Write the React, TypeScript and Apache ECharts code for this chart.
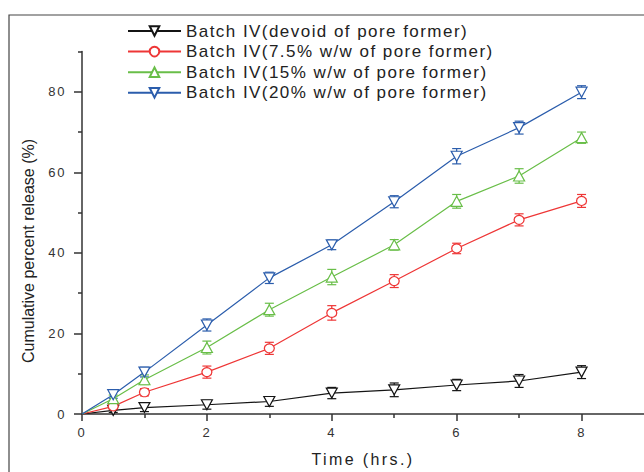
import React, { useEffect, useRef } from "react";
import * as echarts from "echarts";

// Sampling times (h)
const times = [0, 0.5, 1, 2, 3, 4, 5, 6, 7, 8];

// Series labels
const seriesNames = [
  "Batch IV(devoid of pore former)",
  "Batch IV(7.5% w/w of pore former)",
  "Batch IV(15% w/w of pore former)",
  "Batch IV(20% w/w of pore former)",
];

// Mean cumulative release (%)
const releaseNone = [0, 0.9, 1.6, 2.3, 3.1, 5.2, 6.0, 7.2, 8.2, 10.4];
const release75 = [0, 1.9, 5.4, 10.4, 16.3, 25.1, 33.0, 41.1, 48.2, 52.9];
const release15 = [0, 3.8, 8.5, 16.5, 25.9, 34.0, 42.0, 52.8, 59.1, 68.6];
const release20 = [0, 4.8, 10.4, 22.1, 33.8, 42.0, 52.7, 64.0, 71.1, 79.9];

// Standard deviations (%)
const sdNone = [0, 0.5, 1.0, 1.1, 1.2, 1.4, 1.7, 1.4, 1.6, 1.6];
const sd75 = [0, 0.8, 0.9, 1.5, 1.5, 1.8, 1.6, 1.3, 1.5, 1.6];
const sd15 = [0, 0.9, 1.2, 1.6, 1.6, 1.9, 1.3, 1.7, 1.8, 1.4];
const sd20 = [0, 0.9, 1.2, 1.5, 1.4, 1.2, 1.5, 1.9, 1.6, 1.6];

// Axis ticks
const xMajorTicks = [0, 2, 4, 6, 8];
const xMinorTicks = [1, 3, 5, 7];
const yMajorTicks = [0, 20, 40, 60, 80];
const yMinorTicks = [10, 30, 50, 70, 90];

// Font stacks; the trailing fallback name doubles as a CSS hook for letter spacing
const LEGEND_FONT = "Liberation Sans, Arial";
const LABEL_FONT = "Liberation Sans, Helvetica";
const TITLE_FONT = "Liberation Sans, Verdana";
const PLAIN = "Liberation Sans";

const styles = [
  { color: "#141414", symbol: "triangle", rotate: 180, size: [11, 10] },
  { color: "#ee3636", symbol: "circle", rotate: 0, size: [10, 9] },
  { color: "#69be48", symbol: "triangle", rotate: 0, size: [11, 10] },
  { color: "#2b5dac", symbol: "triangle", rotate: 180, size: [11, 10] },
];

export default function App() {
  const ref = useRef<HTMLDivElement>(null);

  useEffect(() => {
    document.body.style.margin = "0";
    if (!ref.current) return;
    const chart = echarts.init(ref.current, null, { renderer: "svg" });

    const means = [releaseNone, release75, release15, release20];
    const sds = [sdNone, sd75, sd15, sd20];

    const lineSeries = seriesNames.map((name, i) => ({
      name,
      type: "line",
      z: 3,
      symbol: styles[i].symbol,
      symbolRotate: styles[i].rotate,
      symbolSize: styles[i].size,
      showAllSymbol: true,
      lineStyle: { color: styles[i].color, width: 1.2 },
      itemStyle: { color: "#ffffff", borderColor: styles[i].color, borderWidth: 1.2 },
      data: times.map((t, k) =>
        t === 0 ? { value: [t, means[i][k]], symbol: "none" } : [t, means[i][k]]
      ),
    }));

    const errorSeries = seriesNames.map((name, i) => ({
      name: name + " SD",
      type: "custom",
      z: 2,
      renderItem: (params: any, api: any) => {
        const x = api.value(0);
        const y = api.value(1);
        const e = api.value(2);
        if (!e) return null;
        const top = api.coord([x, y + e]);
        const bot = api.coord([x, y - e]);
        const hw = 4.5;
        const style = { stroke: styles[i].color, lineWidth: 1.2, fill: "none" };
        return {
          type: "group",
          children: [
            { type: "line", shape: { x1: top[0], y1: top[1], x2: bot[0], y2: bot[1] }, style },
            { type: "line", shape: { x1: top[0] - hw, y1: top[1], x2: top[0] + hw, y2: top[1] }, style },
            { type: "line", shape: { x1: bot[0] - hw, y1: bot[1], x2: bot[0] + hw, y2: bot[1] }, style },
          ],
        };
      },
      encode: { x: 0, y: 1 },
      data: times.map((t, k) => [t, means[i][k], sds[i][k]]),
    }));

    const axisLine = { show: true, lineStyle: { color: "#333333", width: 1.5 } };

    chart.setOption({
      animation: false,
      grid: { left: 82, right: 0, top: 51.5, bottom: 53.5, containLabel: false },
      legend: {
        data: seriesNames,
        orient: "vertical",
        left: 127,
        top: 22.5,
        padding: 0,
        itemWidth: 53,
        itemHeight: 12,
        itemGap: 3.6,
        textStyle: { fontFamily: LEGEND_FONT, fontSize: 17, lineHeight: 17, color: "#222222" },
      },
      xAxis: [
        {
          type: "value",
          min: 0,
          max: 9,
          interval: 1,
          position: "bottom",
          axisLine,
          splitLine: { show: false },
          axisTick: { show: true, inside: false, length: 7, customValues: xMajorTicks, lineStyle: { color: "#333333", width: 1.5 } },
          axisLabel: { customValues: xMajorTicks, margin: 12, fontFamily: LABEL_FONT, fontSize: 13, color: "#333333" },
          name: "Time (hrs.)",
          nameLocation: "middle",
          nameGap: 37,
          nameTextStyle: { fontFamily: TITLE_FONT, fontSize: 16, color: "#222222" },
        },
        {
          type: "value",
          min: 0,
          max: 9,
          interval: 1,
          position: "bottom",
          axisLine: { show: false },
          splitLine: { show: false },
          axisTick: { show: true, length: 4, customValues: xMinorTicks, lineStyle: { color: "#333333", width: 1.5 } },
          axisLabel: { show: false },
        },
      ],
      yAxis: [
        {
          type: "value",
          min: 0,
          max: 90,
          interval: 10,
          position: "left",
          axisLine,
          splitLine: { show: false },
          axisTick: { show: true, length: 8, customValues: yMajorTicks, lineStyle: { color: "#333333", width: 1.5 } },
          axisLabel: { customValues: yMajorTicks, margin: 16, fontFamily: LABEL_FONT, fontSize: 13, color: "#333333" },
        },
        {
          type: "value",
          min: 0,
          max: 90,
          interval: 10,
          position: "left",
          axisLine: { show: false },
          splitLine: { show: false },
          axisTick: { show: true, length: 4, customValues: yMinorTicks, lineStyle: { color: "#333333", width: 1.5 } },
          axisLabel: { show: false },
        },
      ],
      graphic: [
        {
          type: "rect",
          z: -10,
          shape: { x: 9, y: 15, width: 700, height: 500 },
          style: { fill: "none", stroke: "#444444", lineWidth: 1.2 },
        },
        {
          type: "text",
          x: 28,
          y: 251,
          rotation: Math.PI / 2,
          style: {
            text: "Cumulative percent release (%)",
            fontFamily: PLAIN,
            fontSize: 16,
            fill: "#222222",
            align: "center",
            verticalAlign: "middle",
          },
        },
      ],
      series: [...errorSeries, ...lineSeries],
    });

    return () => chart.dispose();
  }, []);

  return (
    <div className="release-chart">
      <style>{`
        .release-chart text[style*="Arial"] { letter-spacing: 1.45px; }
        .release-chart text[style*="Helvetica"] { letter-spacing: 1.6px; }
        .release-chart text[style*="Verdana"] { letter-spacing: 2.4px; }
      `}</style>
      <div ref={ref} style={{ width: 644, height: 472 }} />
    </div>
  );
}
